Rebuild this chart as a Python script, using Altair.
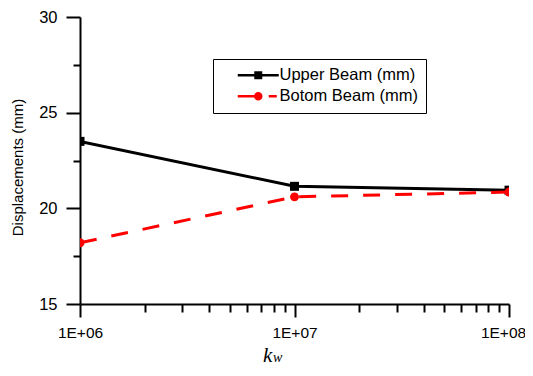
import altair as alt
import pandas as pd

# ---- data ----
kw = [1e6, 1e7, 1e8]
upper = [23.5, 21.15, 20.95]
bottom = [18.2, 20.6, 20.85]
series_names = ["Upper Beam (mm)", "Botom Beam (mm)"]
series_colors = ["black", "red"]
y_title = "Displacements (mm)"
x_title_main = "k"
x_title_sub = "w"
x_major = [1e6, 1e7, 1e8]
x_minor = [2e6, 3e6, 4e6, 5e6, 6e6, 7e6, 8e6, 9e6,
           2e7, 3e7, 4e7, 5e7, 6e7, 7e7, 8e7, 9e7]
y_major = [15, 20, 25, 30]
y_minor = [17.5, 22.5, 27.5]

df = pd.DataFrame({"kw": kw, "upper": upper, "bottom": bottom})
legend_df = pd.DataFrame({"series": series_names})

W, H = 429, 287
FONT = "Liberation Sans"

# legend symbols: line + marker (custom SVG paths)
path_upper = "M-4.1,-0.27H4.1V0.27H-4.1Z M-0.8,-0.8H0.8V0.8H-0.8Z"
path_bottom = ("M-4.1,-0.27H-0.5V0.27H-4.1Z "
               "M0.85,0A0.85,0.85 0 1,1 -0.85,0A0.85,0.85 0 1,1 0.85,0Z "
               "M2.1,-0.27H3.7V0.27H2.1Z")

xscale = alt.Scale(type="log", domain=[1e6, 1e8], nice=False)
yscale = alt.Scale(domain=[15, 30], nice=False, zero=False)

x_major_axis = alt.Axis(
    orient="bottom", values=x_major,
    labelExpr="'1E+0' + round(log(datum.value)/LN10)",
    tickSize=13, tickWidth=2, tickColor="black",
    domainWidth=2, domainColor="black",
    labelFont=FONT, labelFontSize=15.5, labelColor="black", labelPadding=8,
    labelOffset={"condition": {"test": "datum.value > 99999999", "value": -6}, "value": 0},
    labelFlush=False, labelOverlap=False, grid=False, title=None)
x_minor_axis = alt.Axis(
    orient="bottom", values=x_minor, tickSize=8, tickWidth=2,
    tickColor="black", labels=False, domain=False, grid=False, title=None)
y_major_axis = alt.Axis(
    orient="left", values=y_major,
    tickSize=14, tickWidth=2, tickColor="black",
    domainWidth=2, domainColor="black",
    labelFont=FONT, labelFontSize=16.5, labelColor="black", labelPadding=9,
    labelFlush=False, grid=False,
    title=y_title, titleFont=FONT, titleFontSize=15, titleFontWeight="normal",
    titleColor="black", titleX=-63, titleY=150, titleAngle=270,
    titleAlign="center", titleBaseline="middle")
y_minor_axis = alt.Axis(
    orient="left", values=y_minor, tickSize=7, tickWidth=2,
    tickColor="black", labels=False, domain=False, grid=False, title=None)

upper_line = alt.Chart(df).mark_line(color="black", strokeWidth=3, clip=True).encode(
    x=alt.X("kw:Q", scale=xscale, axis=x_major_axis),
    y=alt.Y("upper:Q", scale=yscale, axis=y_major_axis))
upper_pts = alt.Chart(df).mark_point(shape="square", size=81, filled=True,
                                     color="black", opacity=1, clip=True).encode(
    x=alt.X("kw:Q", scale=xscale, axis=None),
    y=alt.Y("upper:Q", scale=yscale, axis=None))
bottom_line = alt.Chart(df).mark_line(color="red", strokeWidth=3,
                                      strokeDash=[17, 15], clip=True).encode(
    x=alt.X("kw:Q", scale=xscale, axis=x_minor_axis),
    y=alt.Y("bottom:Q", scale=yscale, axis=y_minor_axis))
bottom_pts = alt.Chart(df).mark_point(shape="circle", size=80, filled=True,
                                      color="red", opacity=1, clip=True).encode(
    x=alt.X("kw:Q", scale=xscale, axis=None),
    y=alt.Y("bottom:Q", scale=yscale, axis=None))

leg = alt.Legend(title=None, orient="none", legendX=133, legendY=42,
                 direction="vertical", fillColor="white", strokeColor="black",
                 padding=8, rowPadding=4, labelFont=FONT, labelFontSize=16.5,
                 labelColor="black", symbolSize=100, symbolStrokeWidth=0,
                 symbolOffset=29, labelOffset=13, cornerRadius=0)
legend_layer = alt.Chart(legend_df).transform_filter("false").mark_point(
    filled=True, opacity=1).encode(
    color=alt.Color("series:N", scale=alt.Scale(domain=series_names, range=series_colors), legend=leg),
    shape=alt.Shape("series:N", scale=alt.Scale(domain=series_names, range=[path_upper, path_bottom]), legend=leg))

k_layer = alt.Chart(pd.DataFrame({"t": [x_title_main]})).mark_text(
    font="Liberation Serif", fontStyle="italic", fontSize=21, align="left",
    baseline="alphabetic", color="black").encode(
    x=alt.value(183), y=alt.value(345), text="t:N")
w_layer = alt.Chart(pd.DataFrame({"t": [x_title_sub]})).mark_text(
    font="Liberation Serif", fontStyle="italic", fontSize=14, align="left",
    baseline="alphabetic", color="black").encode(
    x=alt.value(193), y=alt.value(345), text="t:N")

chart = alt.layer(
    upper_line, upper_pts, bottom_line, bottom_pts, legend_layer, k_layer, w_layer
).resolve_scale(x="shared", y="shared").resolve_axis(
    x="independent", y="independent"
).properties(
    width=W, height=H,
    autosize=alt.AutoSizeParams(type="none"),
    padding={"left": 72, "top": 9, "right": 16, "bottom": 64},
).configure_view(stroke=None)

chart.save("out.html", embed_options={"renderer": "svg", "actions": False})
